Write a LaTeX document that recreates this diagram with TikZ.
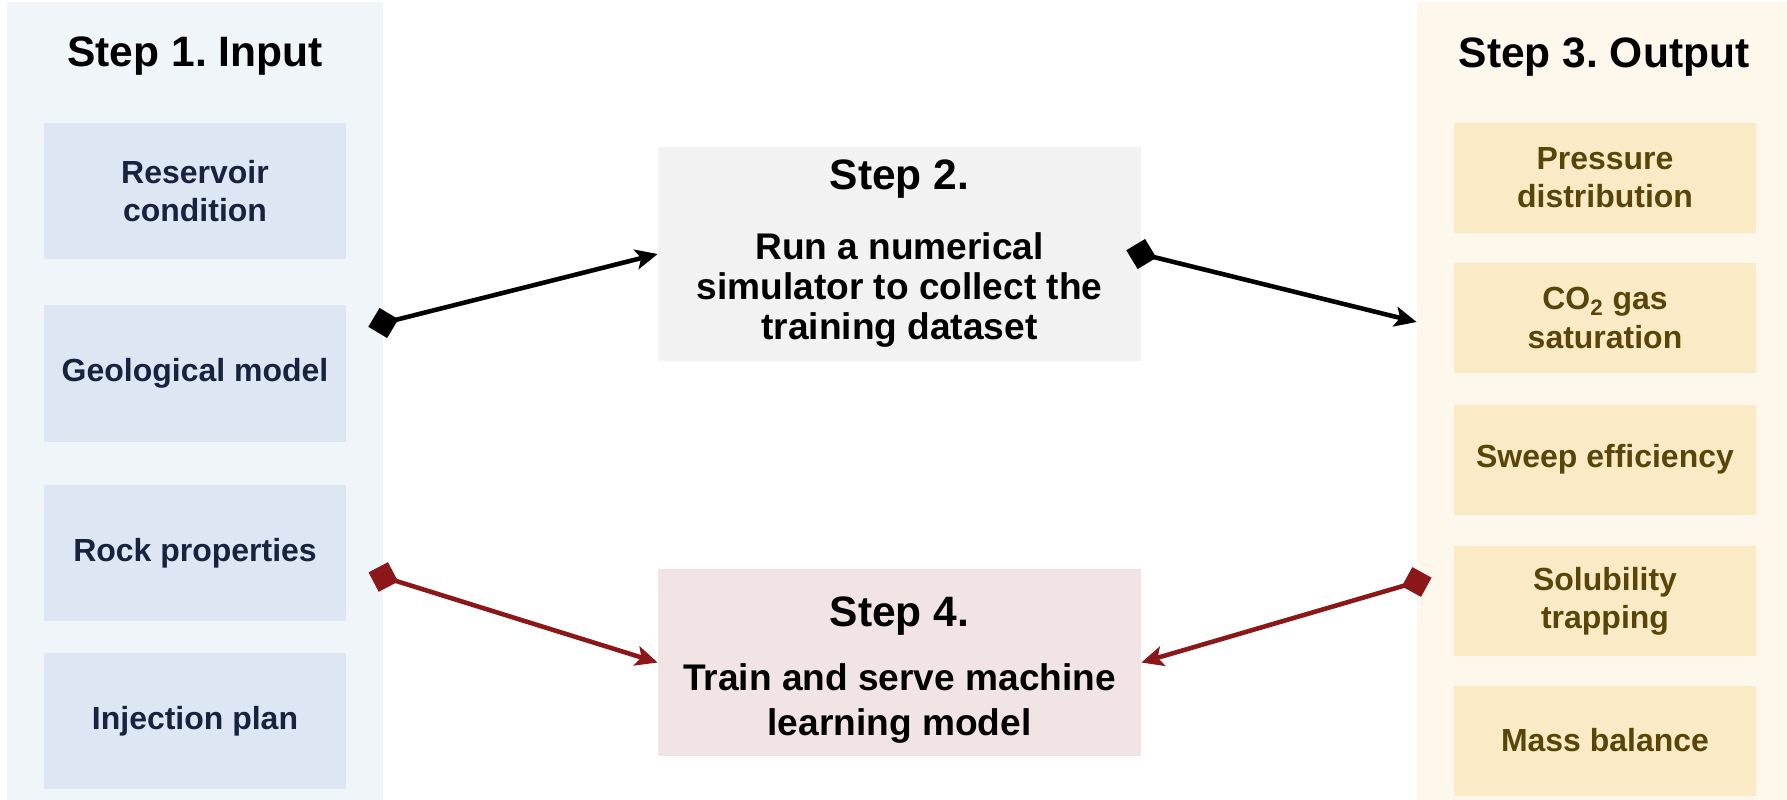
\documentclass[tikz,border=0pt]{standalone}
\usepackage{fontspec}
\setmainfont{Liberation Sans}
\frenchspacing
\usetikzlibrary{arrows.meta,positioning}

\definecolor{inBack}{HTML}{F0F5FA}
\definecolor{inFill}{HTML}{DCE7F3}
\definecolor{inText}{HTML}{17233F}
\definecolor{outBack}{HTML}{FEF8EC}
\definecolor{outFill}{HTML}{FAEBC6}
\definecolor{outText}{HTML}{5A4509}
\definecolor{simFill}{HTML}{F2F2F2}
\definecolor{mlFill}{HTML}{F2E4E4}
\definecolor{mlRed}{HTML}{8B1719}

\begin{document}
\begin{tikzpicture}[
  panel/.style={rectangle, inner sep=0pt, minimum height=15.96cm},
  title/.style={anchor=base, font=\bfseries\fontsize{24.2}{28}\selectfont},
  inbox/.style={rectangle, fill=inFill, text=inText, minimum width=6.04cm, minimum height=2.72cm,
    align=center, font=\bfseries\fontsize{18.2}{21.7}\selectfont},
  outbox/.style={rectangle, fill=outFill, text=outText, minimum width=6.04cm, minimum height=2.2cm,
    align=center, font=\bfseries\fontsize{18.2}{21.7}\selectfont},
  stepbox/.style={rectangle, minimum width=9.66cm, align=center},
  link/.style={line width=2.6pt, shorten <=-0.31cm,
    {Diamond[length=0.62cm,width=0.62cm]}-{Stealth[length=0.44cm,width=0.4cm,inset=0.1cm]}}
]
  \useasboundingbox (0,0) rectangle (35.74,-16);

  % side panels
  \node[panel, fill=inBack, minimum width=7.52cm] (input) at (3.90,-8.02) {};
  \node[panel, fill=outBack, minimum width=7.40cm] (output) at (32.04,-8.02) {};
  \node[title] (inputT) at (3.90,-1.34) {Step 1. Input};
  \node[title] (outputT) at (32.08,-1.36) {Step 3. Output};

  % inputs
  \node[inbox] (res) at (3.90,-3.82) {Reservoir\\condition};
  \node[inbox] (geo) at (3.90,-7.47) {Geological model};
  \node[inbox] (rock) at (3.90,-11.06) {Rock properties};
  \node[inbox] (inj) at (3.90,-14.42) {Injection plan};

  % outputs
  \node[outbox] (pres) at (32.10,-3.56) {Pressure\\distribution};
  \node[outbox] (sat) at (32.10,-6.36) {CO\textsubscript{2} gas\\saturation};
  \node[outbox] (sweep) at (32.10,-9.19) {Sweep efficiency};
  \node[outbox] (sol) at (32.10,-12.02) {Solubility\\trapping};
  \node[outbox] (mass) at (32.10,-14.81) {Mass balance};

  % middle steps
  \node[stepbox, fill=simFill, minimum height=4.28cm, font=\bfseries\fontsize{21.1}{22.8}\selectfont] (sim) at (17.99,-5.08)
    {{\fontsize{24.2}{28}\selectfont Step 2.}\\[17pt]Run a numerical\\simulator to collect the\\training dataset};
  \node[stepbox, fill=mlFill, minimum height=3.74cm, font=\bfseries\fontsize{21.1}{25.6}\selectfont] (ml) at (17.99,-13.25)
    {{\fontsize{24.2}{28}\selectfont\rule{0pt}{26pt}Step 4.}\\[10.8pt]Train and serve machine\\learning model};

  \coordinate (inA) at (input.east |- 0,-6.46);
  \coordinate (inB) at (input.east |- 0,-11.54);
  \coordinate (outA) at (output.west |- 0,-6.44);
  \coordinate (outB) at (output.west |- 0,-11.64);

  \draw[link] (inA) -- (sim.west);
  \draw[link] (sim.east) -- (outA);
  \draw[link, mlRed] (inB) -- (ml.west);
  \draw[link, mlRed] (outB) -- (ml.east);
\end{tikzpicture}
\end{document}
